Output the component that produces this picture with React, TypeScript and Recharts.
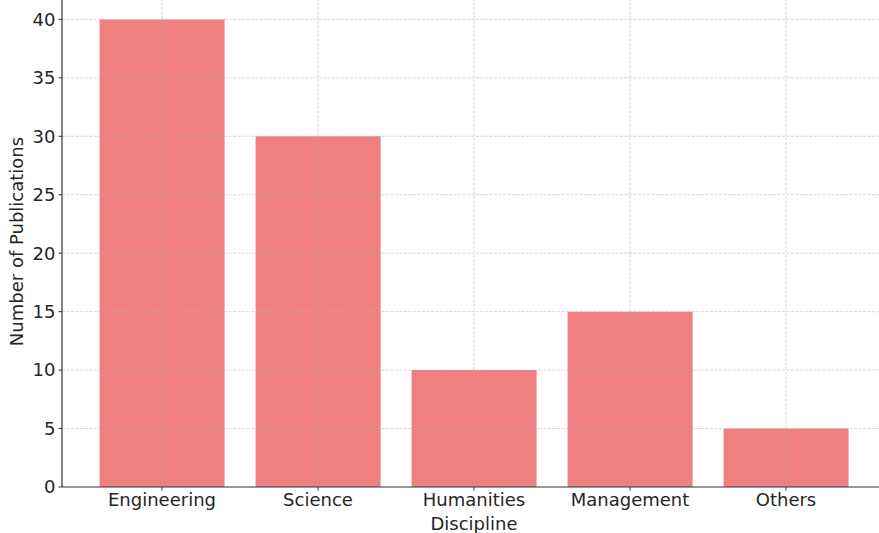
import React from 'react';
import { BarChart, Bar, XAxis, YAxis, ReferenceLine } from 'recharts';

const categories = ['Engineering', 'Science', 'Humanities', 'Management', 'Others'];
const publications = [40, 30, 10, 15, 5];
const yTicks = [0, 5, 10, 15, 20, 25, 30, 35, 40];

const data = categories.map((c, i) => ({ discipline: c, value: publications[i] }));

const FONT = 'DejaVu Sans, sans-serif';
const TEXT = '#262626';
const GRID = '#b0b0b0';
const FS = 18;

export default function App() {
  return (
    <div style={{ position: 'absolute', left: 0, top: 0, width: 879, height: 533, overflow: 'hidden', background: '#fff' }}>
      <div style={{ position: 'absolute', left: 0, top: -10 }}>
        <BarChart
          width={900}
          height={545}
          data={data}
          margin={{ top: 6, right: 14, bottom: 0, left: 0 }}
          barCategoryGap="10%"
        >
          <XAxis
            dataKey="discipline"
            height={48}
            padding={{ left: 22, right: 22 }}
            tick={{ fill: TEXT, fontSize: FS, fontFamily: FONT }}
            tickSize={3.5}
            tickMargin={3}
            axisLine={{ stroke: '#333', strokeWidth: 1.2 }}
            tickLine={{ stroke: '#333', strokeWidth: 1 }}
            label={{ value: 'Discipline', position: 'insideBottom', offset: 5, fill: TEXT, fontSize: FS, fontFamily: FONT }}
          />
          <YAxis
            width={62}
            domain={[0, 42]}
            ticks={yTicks}
            allowDataOverflow
            tick={{ fill: TEXT, fontSize: FS, fontFamily: FONT }}
            tickSize={3.5}
            tickMargin={3}
            axisLine={{ stroke: '#333', strokeWidth: 1.2 }}
            tickLine={{ stroke: '#333', strokeWidth: 1 }}
            label={{ value: 'Number of Publications', angle: -90, position: 'insideLeft', offset: 17, fill: TEXT, fontSize: FS, fontFamily: FONT, style: { textAnchor: 'middle' } }}
          />
          <Bar dataKey="value" fill="#F08080" isAnimationActive={false} />
          {yTicks.slice(1).map((t) => (
            <ReferenceLine key={'y' + t} y={t} stroke={GRID} strokeOpacity={0.65} strokeDasharray="3 1.5" strokeWidth={0.8} />
          ))}
          {categories.map((c) => (
            <ReferenceLine key={'x' + c} x={c} stroke={GRID} strokeOpacity={0.65} strokeDasharray="3 1.5" strokeWidth={0.8} />
          ))}
        </BarChart>
      </div>
    </div>
  );
}
